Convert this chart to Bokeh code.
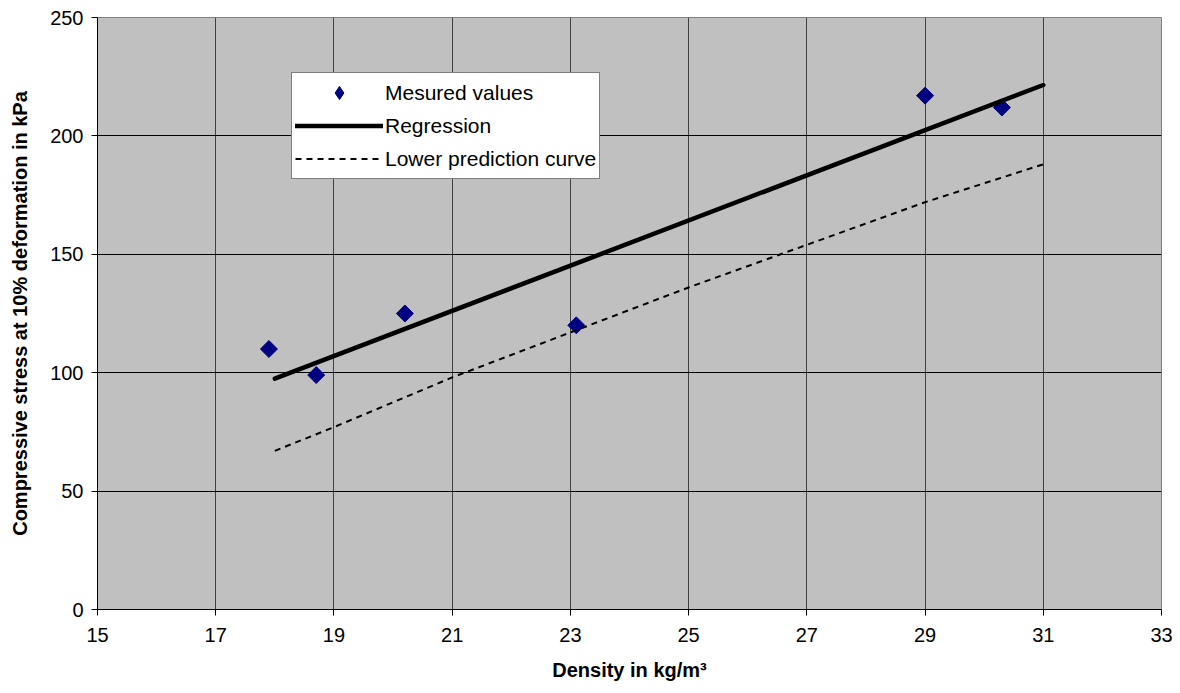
import math
from bokeh.plotting import figure
from bokeh.models import Legend, LegendItem, Range1d, FixedTicker
from bokeh.embed import file_html
from bokeh.resources import INLINE

# Data
density = [17.9, 18.7, 20.2, 23.1, 29.0, 30.3]
stress = [110, 99, 125, 120, 217, 212]
reg_x = [18, 31]
reg_y = [97.5, 221.5]
low_x = [18, 19, 21, 23, 25, 27, 29, 31]
low_y = [67, 77, 98, 117, 136, 154, 172, 188]
x_ticks = [15, 17, 19, 21, 23, 25, 27, 29, 31, 33]
y_ticks = [0, 50, 100, 150, 200, 250]

p = figure(width=1180, height=693, output_backend="svg", toolbar_location=None,
           x_range=Range1d(15, 33), y_range=Range1d(0, 250),
           min_border_left=97, min_border_right=19, min_border_top=17, min_border_bottom=84)
p.background_fill_color = "#C0C0C0"
p.border_fill_color = "white"
p.outline_line_color = "#808080"
p.outline_line_width = 1

p.xaxis.ticker = FixedTicker(ticks=x_ticks)
p.yaxis.ticker = FixedTicker(ticks=y_ticks)
p.xgrid.ticker = FixedTicker(ticks=x_ticks)
p.ygrid.ticker = FixedTicker(ticks=y_ticks)
p.xgrid.grid_line_color = "#404040"
p.ygrid.grid_line_color = "black"
p.xgrid.grid_line_alpha = 1
p.ygrid.grid_line_alpha = 1

for ax in (p.xaxis, p.yaxis):
    ax.major_label_text_font = "Liberation Sans"
    ax.major_label_text_font_size = "20px"
    ax.major_label_text_color = "black"
    ax.axis_label_text_font = "Liberation Sans"
    ax.axis_label_text_font_size = "20px"
    ax.axis_label_text_font_style = "bold"
    ax.axis_label_text_color = "black"
    ax.minor_tick_line_color = None
    ax.major_tick_line_color = "black"
    ax.axis_line_color = "black"
    ax.major_tick_in = 0
    ax.major_tick_out = 6

p.xaxis.axis_label = "Density in kg/m³"
p.yaxis.axis_label = "Compressive stress at 10% deformation in kPa"
p.xaxis.major_label_standoff = 12
p.xaxis.axis_label_standoff = 14
p.yaxis.major_label_standoff = 8
p.yaxis.axis_label_standoff = 16

r_pts = p.scatter(density, stress, marker="square", size=12, angle=math.pi / 4,
                  fill_color="#000080", line_color="#000080")
# legend-only proxy (drawn outside the visible range) so the legend shows a diamond
r_pts_leg = p.scatter([-100], [-100], marker="diamond", size=19,
                      fill_color="#000080", line_color="#000080")
r_reg = p.line(reg_x, reg_y, line_color="black", line_width=4.5, line_cap="round")
r_low = p.line(low_x, low_y, line_color="black", line_width=2, line_dash="6 5")

legend = Legend(items=[LegendItem(label="Mesured values", renderers=[r_pts_leg]),
                       LegendItem(label="Regression", renderers=[r_reg]),
                       LegendItem(label="Lower prediction curve", renderers=[r_low])],
                location=(194, 430))
legend.label_text_font = "Liberation Sans"
legend.label_text_font_size = "21px"
legend.label_text_color = "black"
legend.glyph_width = 88
legend.glyph_height = 33
legend.label_height = 33
legend.spacing = 0
legend.padding = 3
legend.margin = 0
legend.label_standoff = 2
legend.border_line_color = "black"
legend.border_line_width = 1
legend.background_fill_color = "white"
legend.background_fill_alpha = 1
p.add_layout(legend, "center")

open("out.html", "w").write(file_html(p, INLINE))
